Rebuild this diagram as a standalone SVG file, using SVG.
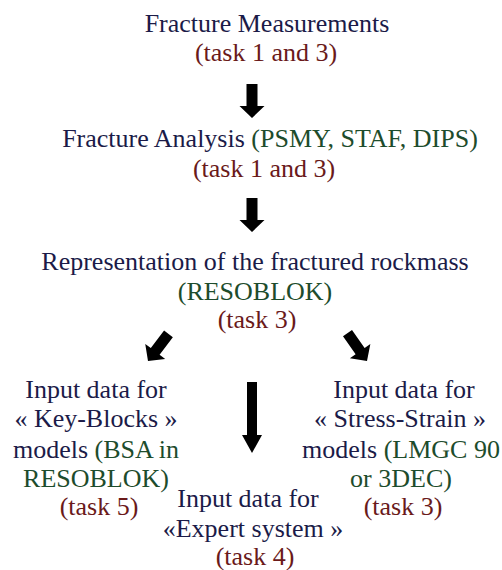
<svg xmlns="http://www.w3.org/2000/svg" width="502" height="570" viewBox="0 0 502 570">
<style>
text{font-family:"Liberation Serif","Times New Roman",serif;font-size:26px;text-anchor:middle}
.n{fill:#1b1b48}
.r{fill:#6a1a1a}
.g{fill:#1d4c2c}
.arr{fill:#000}
</style>
<defs>
<polygon id="ah" points="-5.5,-34 5.5,-34 5.5,-12 12.5,-12 0,0 -12.5,-12 -5.5,-12"/>
</defs>
<rect width="502" height="570" fill="#fff"/>
<g id="n1">
<text x="267" y="32" class="n">Fracture Measurements</text>
<text x="266" y="61" class="r">(task 1 and 3)</text>
</g>
<g id="n2">
<text x="270" y="147"><tspan class="n">Fracture Analysis </tspan><tspan class="g">(PSMY, STAF, DIPS)</tspan></text>
<text x="264" y="177" class="r">(task 1 and 3)</text>
</g>
<g id="n3">
<text x="255" y="270" class="n">Representation of the fractured rockmass</text>
<text x="255" y="300" class="g">(RESOBLOK)</text>
<text x="257" y="328" class="r">(task 3)</text>
</g>
<g id="n4">
<text x="96" y="398" class="n">Input data for</text>
<text x="96" y="427" class="n">« Key-Blocks »</text>
<text x="96" y="458"><tspan class="n">models </tspan><tspan class="g">(BSA in</tspan></text>
<text x="96" y="487" class="g">RESOBLOK)</text>
<text x="99" y="515" class="r">(task 5)</text>
</g>
<g id="n5">
<text x="248" y="507" class="n">Input data for</text>
<text x="253" y="537" class="n">«Expert system »</text>
<text x="255" y="565" class="r">(task 4)</text>
</g>
<g id="n6">
<text x="404" y="398" class="n">Input data for</text>
<text x="400" y="427" class="n">« Stress-Strain »</text>
<text x="401" y="458"><tspan class="n">models </tspan><tspan class="g">(LMGC 90</tspan></text>
<text x="401" y="487" class="g">or 3DEC)</text>
<text x="403" y="515" class="r">(task 3)</text>
</g>
<g id="connectors" class="arr">
<use href="#ah" transform="translate(252,118)"/>
<use href="#ah" transform="translate(252,232)"/>
<use href="#ah" transform="translate(148,361) rotate(37)"/>
<use href="#ah" transform="translate(367,361) rotate(-35)"/>
<polygon points="247,382 257,382 257,435 262,435 252,453 242,435 247,435"/>
</g>
</svg>
